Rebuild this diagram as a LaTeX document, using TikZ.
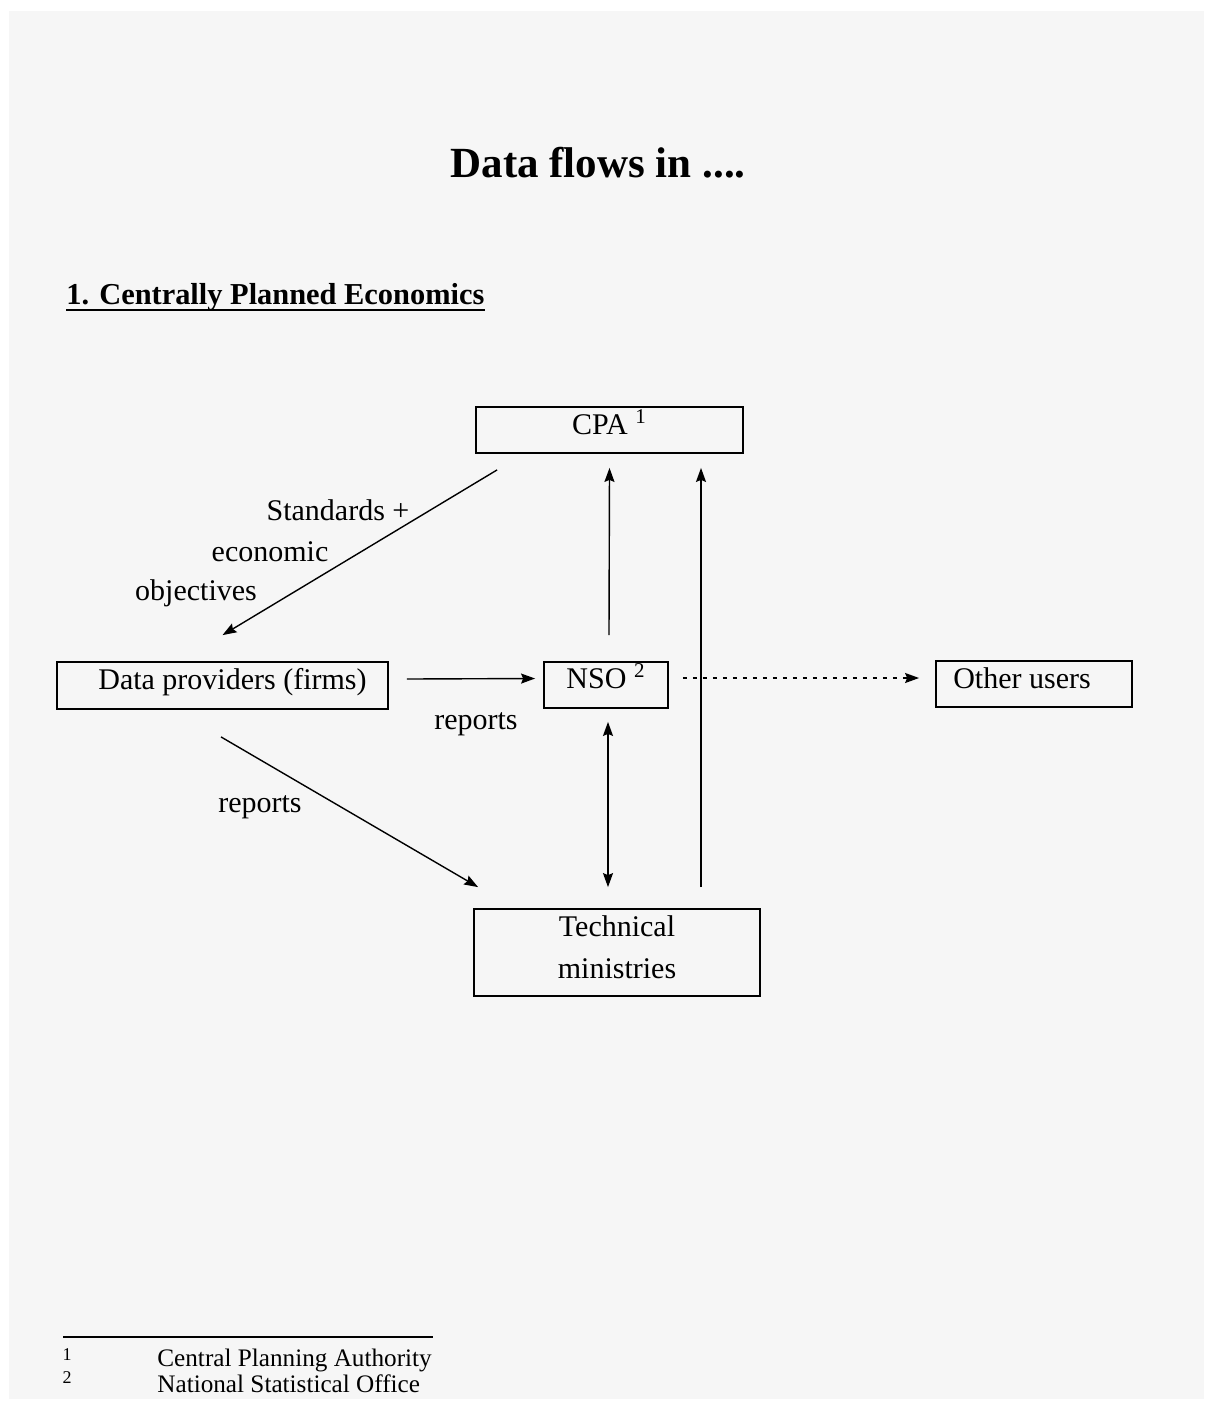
\documentclass[tikz,border=0pt]{standalone}
\usepackage{fontspec}
\setmainfont{Liberation Serif}
\usetikzlibrary{calc,arrows.meta}
\tikzstyle{arrow} = [->,>={Stealth[length=7pt,width=5pt,inset=1pt]},line width=0.7pt]
\tikzstyle{box} = [draw,line width=0.9pt,inner sep=0pt,text height=4pt,text depth=0pt,font=\fontsize{15}{21}\selectfont]
\tikzstyle{lbl} = [inner sep=0pt,font=\fontsize{15}{21}\selectfont]

\begin{document}
\begin{tikzpicture}[x=0.5pt,y=-0.5pt]
  \useasboundingbox (0,0) rectangle (1208,1405);
  \fill[white] (0,0) rectangle (1208,1405);
  \fill[gray!7] (9,11) rectangle (1204,1399);

  % title and heading
  \node[lbl, font=\fontsize{21.5}{26}\selectfont\bfseries] (title) at (598,163) {Data flows in ....};
  \node[lbl, font=\fontsize{15.2}{21}\selectfont\bfseries, anchor=base west] (head) at (66,304) {1. Centrally Planned Economics};
  \draw[line width=1pt] ($(head.base west)+(0,6)$) -- ($(head.base east)+(0,6)$);

  % boxes
  \node[box, minimum width=133.5pt, minimum height=23pt] (cpa) at (609.5,430) {CPA \textsuperscript{1}};
  \node[box, minimum width=165.5pt, minimum height=23.5pt] (dp) at (222.5,685.5) {\hspace{10pt}Data providers (firms)};
  \node[box, minimum width=62pt, minimum height=23pt, text height=3pt] (nso) at (606,685) {NSO \textsuperscript{2}};
  \node[box, minimum width=98pt, minimum height=23pt] (oth) at (1034,684) {Other users\hspace{12pt}\null};
  \node[box, minimum width=143pt, minimum height=43.5pt, align=center, text height=, text depth=5pt] (tech) at (617,952.5) {Technical\\ministries};

  % flows
  \draw[arrow] ($(cpa.south west)+(22,16)$) -- ($(dp.north)+(0,-26)$);
  \draw[arrow] ($(nso.north)+(3,-26)$) -- ($(cpa.south)+(0,14)$);
  \draw[arrow] ($(tech.north)+(84,-21)$) -- ($(cpa.south)+(91.5,14)$);
  \draw[arrow] ($(dp.east)+(18,-6.5)$) -- ($(nso.west)+(-8,-6.5)$);
  \draw[arrow, <->] ($(nso.south)+(2,13)$) -- ($(tech.north)+(-9,-21)$);
  \draw[arrow] ($(dp.south)+(-1.5,27)$) -- ($(tech.north west)+(5,-21)$);
  \draw[arrow, dash pattern=on 2pt off 3pt] ($(nso.east)+(14,-7)$) -- ($(oth.west)+(-16,-6)$);

  % labels
  \node[lbl] (std) at (338,510) {Standards +};
  \node[lbl] (eco) at (270,552) {economic};
  \node[lbl] (obj) at (196,593) {objectives};
  \node[lbl] (rep1) at (476,724) {reports};
  \node[lbl] (rep2) at (260,807) {reports};

  % footnotes
  \draw[line width=0.6pt] (63,1337) -- (433,1337);
  \node[lbl, font=\fontsize{9}{10}\selectfont] (fn1) at (67,1355) {1};
  \node[lbl, font=\fontsize{9}{10}\selectfont] (fn2) at (67,1378) {2};
  \node[lbl, font=\fontsize{12.6}{14}\selectfont, anchor=west] (fnt1) at (157,1360) {Central Planning Authority};
  \node[lbl, font=\fontsize{12.6}{14}\selectfont, anchor=west] (fnt2) at (157,1384) {National Statistical Office};
\end{tikzpicture}
\end{document}
